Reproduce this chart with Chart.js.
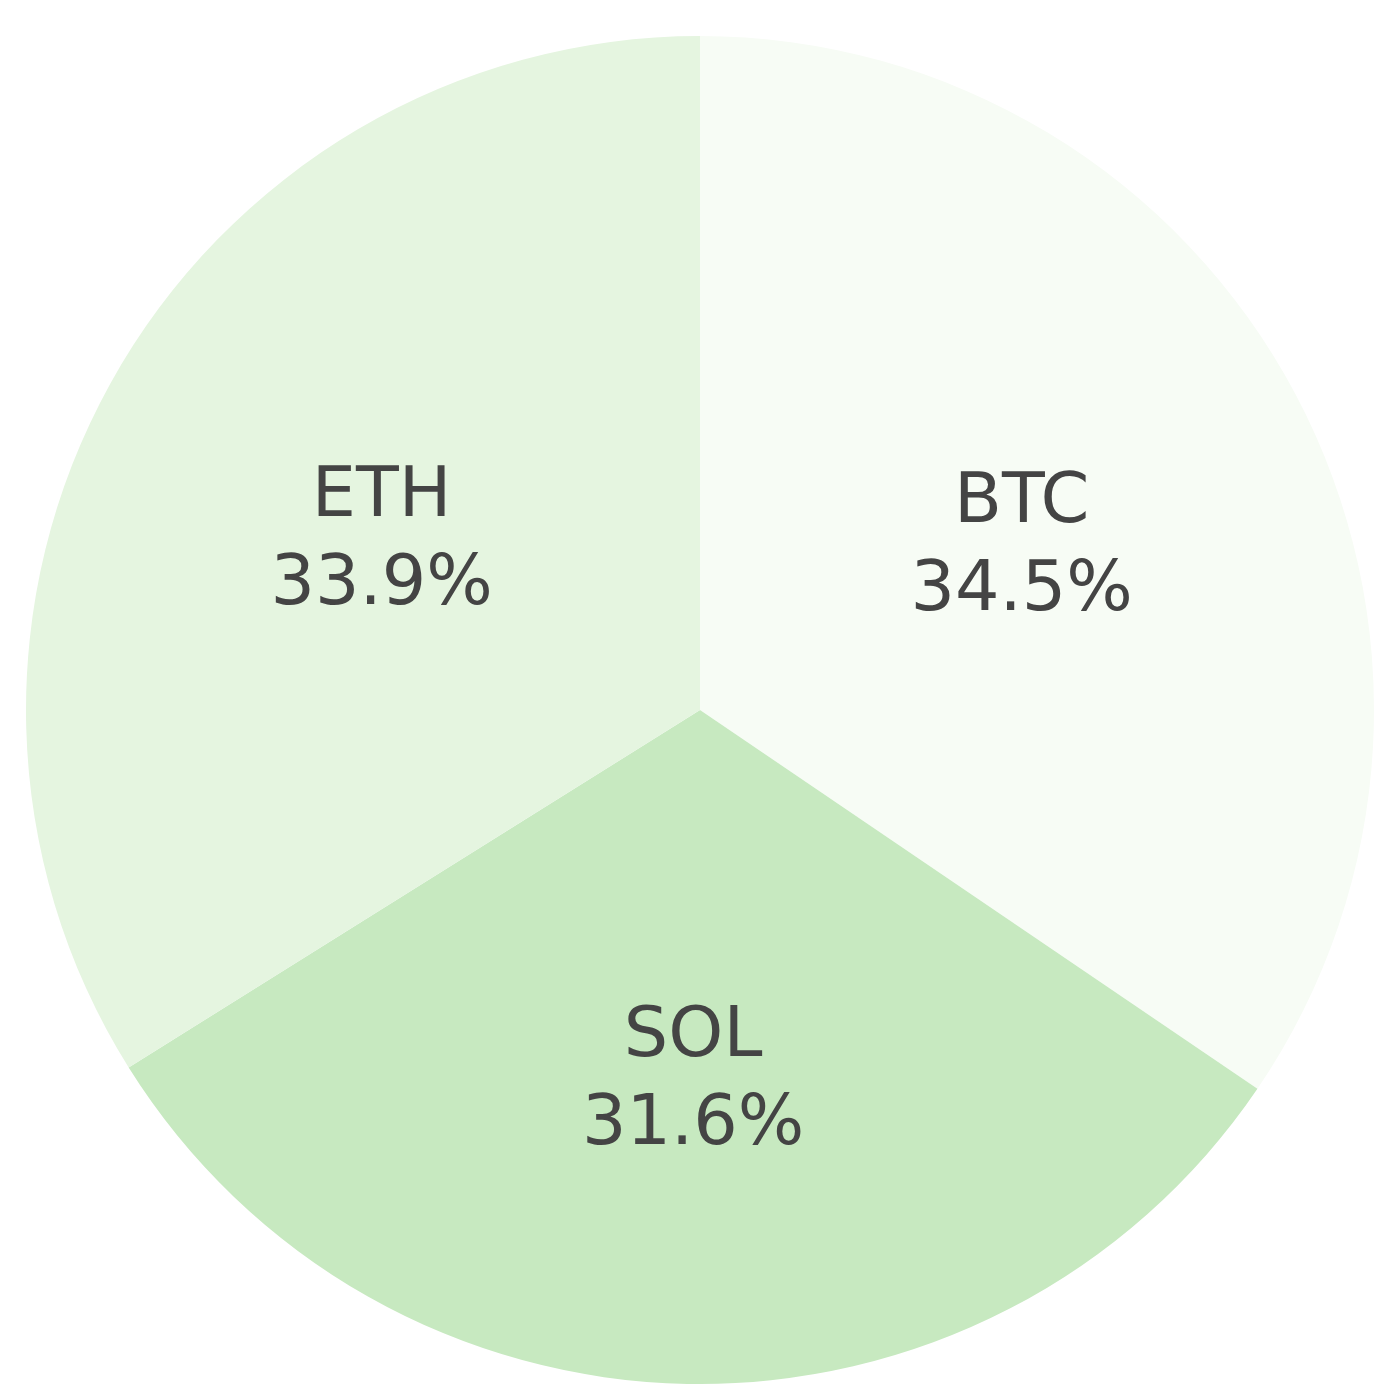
<!DOCTYPE html>
<html>
<head>
<meta charset="utf-8">
<script src="https://cdn.jsdelivr.net/npm/chart.js@4"></script>
<style>
  html, body { margin: 0; padding: 0; background: #ffffff; }
  #wrap { width: 1384px; height: 1385px; }
</style>
</head>
<body>
<div id="wrap"><canvas id="pie"></canvas></div>
<script>
// datos del grafico
const labels = ['BTC', 'SOL', 'ETH'];
const shares = [34.5, 31.6, 33.9];
const colors = ['#f7fcf5', '#c7e9c0', '#e5f5e0'];

// plugin sencillo para escribir nombre y porcentaje dentro de cada porcion
const sliceLabels = {
  id: 'sliceLabels',
  afterDatasetsDraw(chart) {
    const ctx = chart.ctx;
    const meta = chart.getDatasetMeta(0);
    ctx.save();
    ctx.fillStyle = '#444444';
    ctx.font = '70px "DejaVu Sans"';
    ctx.textAlign = 'center';
    ctx.textBaseline = 'alphabetic';
    meta.data.forEach((arc, i) => {
      const p = arc.getProps(['x', 'y', 'startAngle', 'endAngle', 'outerRadius'], true);
      const mid = (p.startAngle + p.endAngle) / 2;
      const r = p.outerRadius * 0.54;
      const x = p.x + Math.cos(mid) * r;
      const y = p.y + Math.sin(mid) * r;
      ctx.fillText(labels[i], x, y - 18);
      ctx.fillText(shares[i].toFixed(1) + '%', x, y + 70);
    });
    ctx.restore();
  }
};

new Chart(document.getElementById('pie'), {
  type: 'pie',
  data: {
    labels: labels,
    datasets: [{
      data: shares,
      backgroundColor: colors,
      borderWidth: 0
    }]
  },
  options: {
    responsive: true,
    maintainAspectRatio: false,
    animation: false,
    layout: { padding: { left: 26, right: 10, top: 36, bottom: 1 } },
    plugins: {
      legend: { display: false },
      tooltip: { enabled: false }
    }
  },
  plugins: [sliceLabels]
});
</script>
</body>
</html>
